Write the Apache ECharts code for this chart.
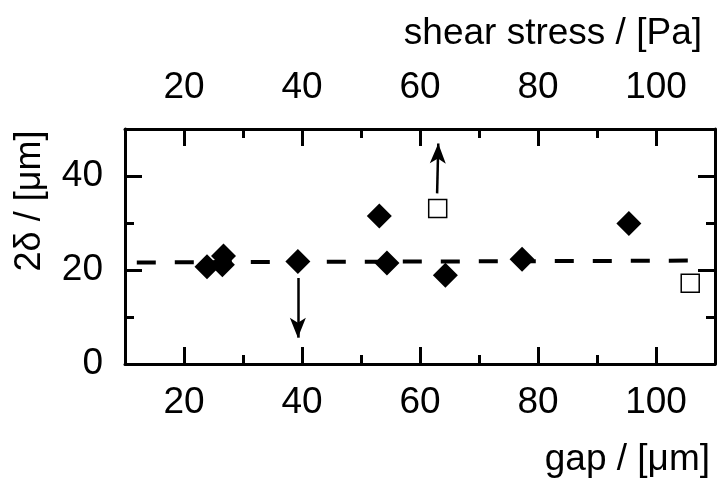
<!DOCTYPE html>
<html>
<head>
<meta charset="utf-8">
<script src="https://cdn.jsdelivr.net/npm/echarts@6/dist/echarts.min.js"></script>
<style>html,body{margin:0;padding:0;background:#fff}#c{width:718px;height:486px}</style>
</head>
<body>
<div id="c"></div>
<script>
// ---- data ----
var gapFilled   = [23.9, 26.5, 26.7, 39.3, 53.1, 54.4, 64.3, 77.3, 95.4];
var deltaFilled = [20.7, 21.1, 23.0, 21.8, 31.5, 21.5, 18.9, 22.3, 29.9];
var gapOpen     = [63.0, 105.8];
var deltaOpen   = [33.1, 17.2];
var fitGap      = [12.0, 106.4];
var fitDelta    = [21.6, 22.0];
// arrows: [xStart, yStart, xEnd, yEnd]
var arrowDown   = [39.3, 18.3, 39.3, 5.6];
var arrowUp     = [62.9, 36.3, 63.1, 46.9];
var xMajor      = [20, 40, 60, 80, 100];
var xMinor      = [30, 50, 70, 90];
var yMajor      = [0, 20, 40];
var yMinor      = [10, 30];
var xTitle      = 'gap / [μm]';
var x2Title     = 'shear stress / [Pa]';
var yTitle      = '2δ / [μm]';

var FONT = 'Liberation Sans, Arial, sans-serif';
var lineStyle = {color: '#000', width: 3};

function xAx(pos, major, showLine) {
  return {
    type: 'value', position: pos, min: 10, max: 110,
    axisLine: {show: showLine, onZero: false, lineStyle: lineStyle},
    axisTick: {show: true, inside: true, length: major ? 17 : 9, lineStyle: {color: '#000', width: 3},
               customValues: major ? xMajor : xMinor},
    axisLabel: {show: major, customValues: xMajor, color: '#000', fontSize: 37, fontFamily: FONT,
                margin: pos === 'bottom' ? 20 : 23},
    splitLine: {show: false}
  };
}
function yAx(pos, major, showLine) {
  return {
    type: 'value', position: pos, min: 0, max: 50,
    axisLine: {show: showLine, onZero: false, lineStyle: lineStyle},
    axisTick: {show: true, inside: true, length: major ? 17 : 9, lineStyle: {color: '#000', width: 3},
               customValues: major ? yMajor : yMinor},
    axisLabel: {show: major && pos === 'left', customValues: yMajor, color: '#000', fontSize: 37, fontFamily: FONT, margin: 22},
    splitLine: {show: false}
  };
}

var chart = echarts.init(document.getElementById('c'), null, {renderer: 'canvas'});
var option = {
  animation: false,
  backgroundColor: '#fff',
  grid: {left: 125, right: 3, top: 129, bottom: 122, containLabel: false},
  xAxis: [xAx('bottom', true, true), xAx('bottom', false, false), xAx('top', true, true), xAx('top', false, false)],
  yAxis: [yAx('left', true, true), yAx('left', false, false), yAx('right', true, true), yAx('right', false, false)],
  graphic: [
    {type: 'text', right: 8, top: 441, style: {text: xTitle, font: '37px ' + FONT, fill: '#000'}},
    {type: 'text', right: 16, top: 15, style: {text: x2Title, font: '37px ' + FONT, fill: '#000'}},
    {type: 'text', x: 30, y: 201, rotation: Math.PI / 2,
     style: {text: yTitle, font: '36px ' + FONT, fill: '#000', align: 'center', verticalAlign: 'middle'}}
  ],
  series: [
    {
      type: 'line', xAxisIndex: 0, yAxisIndex: 0, silent: true,
      data: fitGap.map(function (g, i) { return [g, fitDelta[i]]; }),
      showSymbol: false, symbol: 'none',
      lineStyle: {color: '#000', width: 4, type: [19, 19]}, z: 2,
      markLine: {
        silent: true, symbol: ['none', 'arrow'], symbolSize: [12, 20],
        label: {show: false},
        lineStyle: {color: '#000', width: 2.5, type: 'solid'},
        data: [
          [{coord: [arrowDown[0], arrowDown[1]]}, {coord: [arrowDown[2], arrowDown[3]]}],
          [{coord: [arrowUp[0], arrowUp[1]]}, {coord: [arrowUp[2], arrowUp[3]]}]
        ]
      }
    },
    {
      type: 'scatter', xAxisIndex: 0, yAxisIndex: 0, symbol: 'diamond', symbolSize: 25,
      itemStyle: {color: '#000', opacity: 1}, z: 3,
      data: gapFilled.map(function (g, i) { return [g, deltaFilled[i]]; })
    },
    {
      type: 'scatter', xAxisIndex: 0, yAxisIndex: 0, symbol: 'rect', symbolSize: 18,
      itemStyle: {color: '#fff', borderColor: '#000', borderWidth: 1.5, opacity: 1}, z: 3,
      data: gapOpen.map(function (g, i) { return [g, deltaOpen[i]]; })
    }
  ]
};
chart.setOption(option);
</script>
</body>
</html>
